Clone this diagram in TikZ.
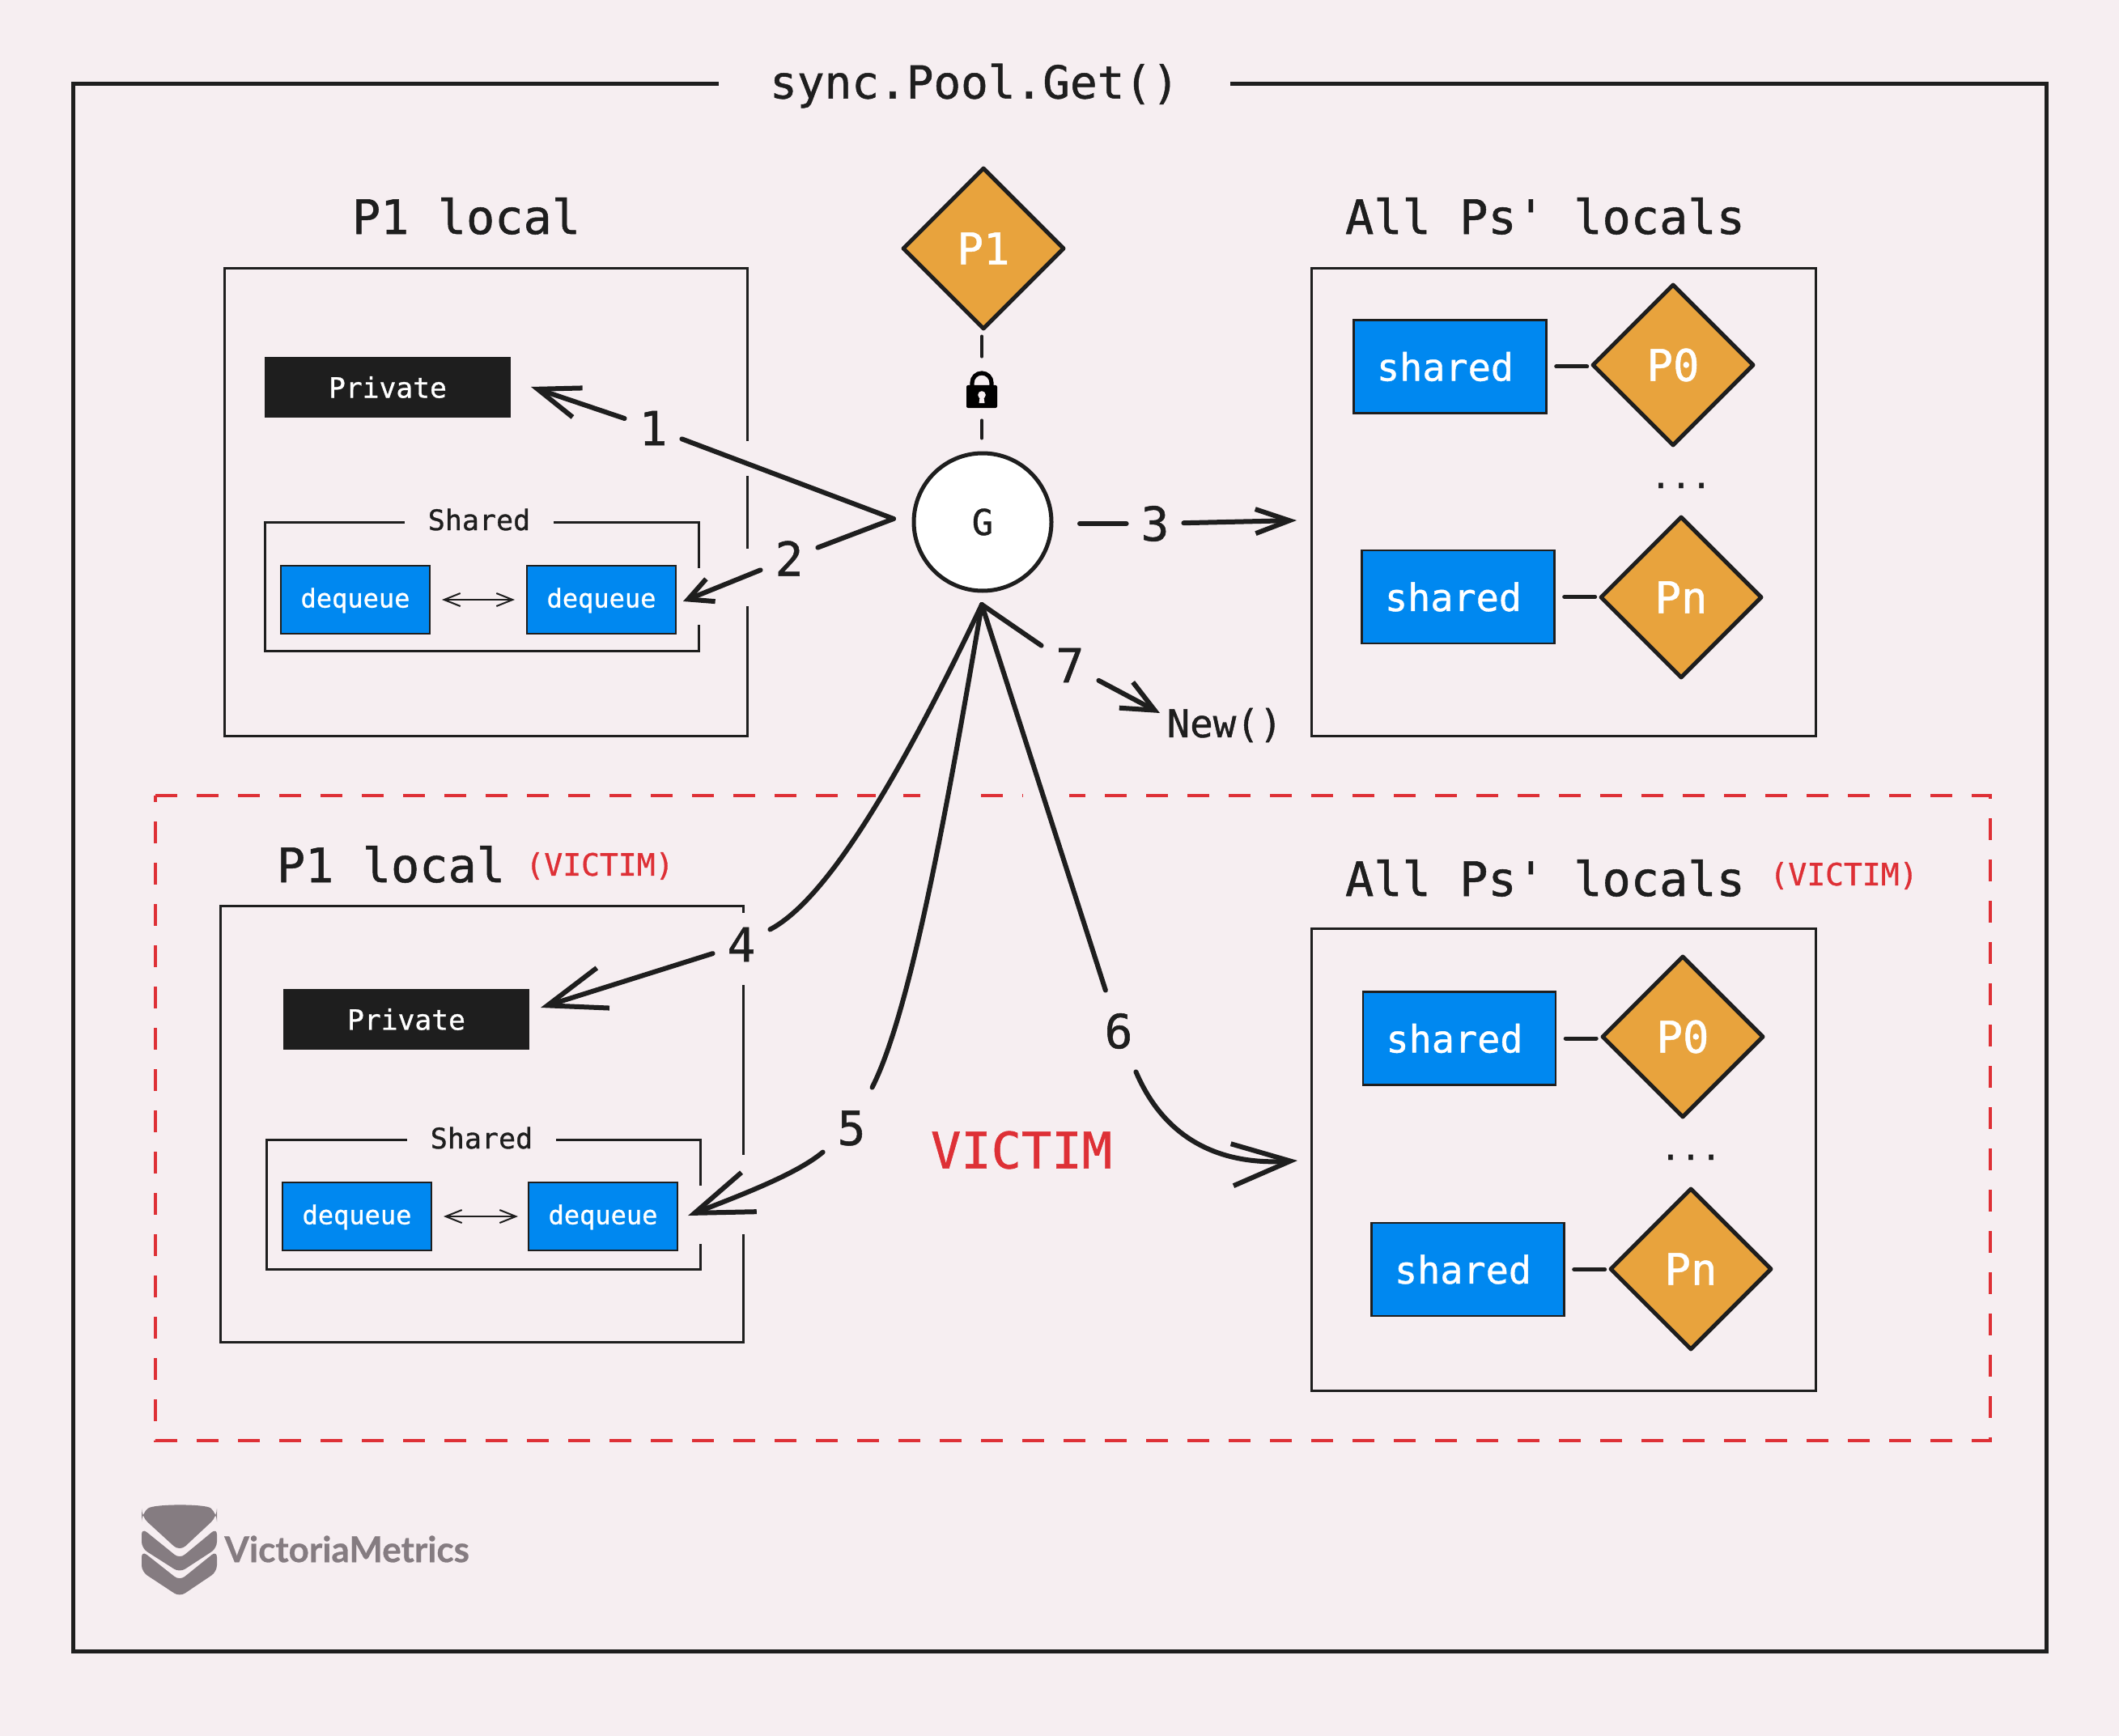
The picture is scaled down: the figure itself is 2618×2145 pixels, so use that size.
\documentclass[tikz,border=0pt]{standalone}
\usepackage{fontspec}
\setmonofont{DejaVu Sans Mono}[FakeBold=0.9]
\renewcommand{\familydefault}{\ttdefault}
\newfontfamily\logofont{Lato}[FakeBold=0.6]
\usetikzlibrary{arrows.meta,shapes.geometric}

\definecolor{pagebg}{HTML}{F6EEF1}
\definecolor{ink}{HTML}{1E1E1E}
\definecolor{qblue}{HTML}{0088F0}
\definecolor{porange}{HTML}{E8A33D}
\definecolor{vred}{HTML}{DE3036}
\definecolor{logogray}{HTML}{857C81}

\tikzset{
  txt/.style={font=\normalfont\fontsize{#1}{#1}\selectfont, text=ink, inner sep=0pt},
  size/.style args={#1x#2}{minimum width=#1*0.5pt, minimum height=#2*0.5pt},
  frame/.style={draw=ink, line width=1.5pt, inner sep=0pt},
  private/.style={fill=ink, inner sep=0pt, size=304x75, text=white, font=\normalfont\fontsize{17.3}{17.3}\selectfont},
  dequeue/.style={draw=ink, line width=1pt, fill=qblue, inner sep=0pt, size=184x84, text=white, text height=0.96em, text depth=0pt, font=\normalfont\fontsize{16}{16}\selectfont},
  sharedq/.style={draw=ink, line width=1.2pt, fill=qblue, inner sep=0pt, size=238x115, text=white, font=\normalfont\fontsize{23.4}{23.4}\selectfont, execute at end node=\hspace{6pt}},
  proc/.style={diamond, aspect=1, draw=ink, line width=2.5pt, line join=round, fill=porange, inner sep=0pt, minimum size=100pt, text=white, font=\normalfont\fontsize{27}{27}\selectfont},
  stepnum/.style={txt=29, size=70x100},
  link/.style={draw=ink, line width=3pt, line cap=round},
  tether/.style={draw=ink, line width=2pt, line cap=round},
  swap/.style={draw=ink, line width=1pt, {Straight Barb[length=10pt,width=8pt]}-{Straight Barb[length=10pt,width=8pt]}},
  cleared/.style={fill=pagebg},
}

\begin{document}
\begin{tikzpicture}[x=0.5pt,y=-0.5pt]
  \useasboundingbox (0,0) rectangle (2618,2145);
  \fill[pagebg] (0,0) rectangle (2618,2145);

  %outer frame with its title
  \node[draw=ink, line width=2.5pt, size=2438x1936] (outer) at (1309,1072) {};
  \node[txt=28, fill=pagebg, size=632x60] (title) at (1204,106) {sync.Pool.Get()};

  %victim region
  \draw[vred, line width=1.8pt, dash pattern=on 13.5pt off 12pt] (192,983) -- (2459,983) -- (2459,1780) -- (192,1780) -- cycle;

  %local boxes
  \node[frame, size=646x577] (localA) at (600,620.5) {};
  \node[frame, size=623x577] (allA) at (1931.5,620.5) {};
  \node[frame, size=646x539] (localB) at (595,1388.5) {};
  \node[frame, size=623x571] (allB) at (1931.5,1432.5) {};
  \node[frame, size=536x159] (boxA) at (595,724.5) {};
  \node[frame, size=536x160] (boxB) at (597,1488) {};

  %openings where the arrows pass
  \foreach \x/\a/\b in {923/545/588, 923/678/749, 863/702/772, 918/1128/1217, 918/1427/1525, 866/1465/1537}
    \fill[cleared] (\x-5,\a) rectangle (\x+5,\b);
  \foreach \a/\b in {1082/1116, 1137/1211, 1264/1321}
    \fill[cleared] (\a,975) rectangle (\b,991);

  \node[txt=29.3] (headA) at (576,267) {P1 local};
  \node[txt=29.3] (headB) at (1909,267) {All Ps' locals};
  \node[txt=29.3] (headC) at (483,1068) {P1 local};
  \node[txt=29.3] (headD) at (1909,1085) {All Ps' locals};
  \node[txt=19, text=vred] (tagC) at (741,1070) {(VICTIM)};
  \node[txt=19, text=vred] (tagD) at (2278,1082) {(VICTIM)};
  \node[txt=31, text=vred] (victim) at (1262,1421) {VICTIM};

  %P1 local contents
  \node[private] (privA) at (479,478.5) {Private};
  \node[txt=17.5, fill=pagebg, size=184x40] (sharedA) at (592,642) {Shared};
  \node[dequeue] (deqA) at (439,741) {dequeue};
  \node[dequeue] (deqB) at (743,741) {dequeue};
  \draw[swap] (deqA) ++(107,0) -- ++(90,0);

  \node[private] (privB) at (502,1259.5) {Private};
  \node[txt=17.5, fill=pagebg, size=184x40] (sharedB) at (595,1406) {Shared};
  \node[dequeue] (deqC) at (441,1503) {dequeue};
  \node[dequeue] (deqD) at (745,1503) {dequeue};
  \draw[swap] (deqC) ++(107,0) -- ++(92,0);

  %all Ps, top
  \node[sharedq] (qA) at (1791.5,453) {shared};
  \node[proc] (pA) at (2067,451) {P0};
  \node[sharedq] (qB) at (1801.5,737.5) {shared};
  \node[proc] (pB) at (2077,738) {Pn};
  \node[txt=20.8, anchor=base] (dotsA) at (2077,603) {...};
  \draw[link, line width=2.5pt] (qA.east) ++(11,0) -- ++(38,0);
  \draw[link, line width=2.5pt] (qB.east) ++(11,0) -- ++(38,0);

  %all Ps, bottom
  \node[sharedq] (qC) at (1803,1283) {shared};
  \node[proc] (pC) at (2079,1281) {P0};
  \node[sharedq] (qD) at (1813.5,1568.5) {shared};
  \node[proc] (pD) at (2089,1568) {Pn};
  \node[txt=20.8, anchor=base] (dotsB) at (2089,1433) {...};
  \draw[link, line width=2.5pt] (qC.east) ++(11,0) -- ++(38,0);
  \draw[link, line width=2.5pt] (qD.east) ++(11,0) -- ++(38,0);

  %goroutine, its P and the lock
  \node[proc] (pMain) at (1215,307) {P1};
  \node[circle, draw=ink, line width=2.5pt, fill=white, minimum size=85pt, inner sep=0pt, font=\normalfont\fontsize{22}{22}\selectfont, text=ink] (g) at (1214,645) {G};
  \node[minimum width=19pt, minimum height=39pt, inner sep=0pt] (lock) at (1213,480) {};
  \fill[black, rounded corners=1pt] (1194,476) rectangle (1232,504);
  \draw[black, line width=2.6pt] (1201,478) -- (1201,473) arc[start angle=180, end angle=0, radius=6pt] -- (1225,478);
  \fill[pagebg] (1213,488) circle (2.4pt);
  \fill[pagebg] (1211,488) -- (1215,488) -- (1216.5,498) -- (1209.5,498) -- cycle;
  \draw[tether, shorten <=3pt] (lock.north |- pMain.south) -- (lock.north);
  \draw[tether, shorten >=8pt] (lock.south) -- (g.north -| lock.south);

  %arrows out of G
  \coordinate (fork) at (1104,641);
  \coordinate (apex) at (1213,747);
  \coordinate (startThree) at (1334,647);
  \coordinate (tipOne) at (656,478);
  \coordinate (tipTwo) at (844,743);
  \coordinate (tipThree) at (1602,643);
  \coordinate (tipFour) at (668,1245);
  \coordinate (tipFive) at (850,1502);
  \coordinate (tipSix) at (1603,1434);
  \coordinate (tipSeven) at (1433,881);
  \node[txt=23.7] (newCall) at (1513,896) {New()};

  \node[stepnum] (one) at (807,529) {1};
  \node[stepnum] (two) at (975,690) {2};
  \node[stepnum] (three) at (1427,647) {3};
  \node[stepnum] (four) at (916,1167) {4};
  \node[stepnum] (five) at (1052,1394) {5};
  \node[stepnum] (six) at (1382,1274) {6};
  \node[stepnum] (seven) at (1322,822) {7};

  %step 1
  \draw[link] (fork) -- (one);
  \draw[link, -{Straight Barb[length=26pt,width=19pt]}] (one) -- (tipOne);
  %step 2
  \draw[link] (fork) -- (two);
  \draw[link, -{Straight Barb[length=15pt,width=15pt]}] (two) -- (tipTwo);
  %step 3
  \draw[link] (startThree) -- (three);
  \draw[link, -{Straight Barb[length=21pt,width=15pt]}] (three) -- (tipThree);
  %step 4
  \draw[link] (apex) .. controls (1100,985) and (1015,1115) .. (four);
  \draw[link, -{Straight Barb[length=36pt,width=26pt]}] (four) -- (tipFour);
  %step 5
  \draw[link] (apex) .. controls (1170,1000) and (1125,1250) .. (five);
  \draw[link, -{Straight Barb[length=36pt,width=26pt]}] (five) .. controls (985,1450) and (920,1475) .. (tipFive);
  %step 6
  \draw[link] (apex) -- (six);
  \draw[link, -{Straight Barb[length=36pt,width=26pt]}] (six) .. controls (1440,1410) and (1510,1440) .. (tipSix);
  %step 7
  \draw[link] (apex) -- (seven);
  \draw[link, -{Straight Barb[length=20pt,width=18pt]}] (seven) -- (tipSeven);

  %logo
  \fill[logogray, rounded corners=5pt] (175,1870) .. controls (190,1858) and (254,1858) .. (268,1870) -- (268,1874) -- (222,1917) -- (175,1874) -- cycle;
  \fill[logogray, rounded corners=4pt] (175,1888) -- (222,1926) -- (268,1888) -- (268,1913) -- (222,1943) -- (175,1913) -- cycle;
  \fill[logogray, rounded corners=4pt] (175,1916) -- (222,1953) -- (268,1916) -- (268,1942) -- (222,1973) -- (175,1942) -- cycle;
  \node[font=\logofont\bfseries\fontsize{22}{22}\selectfont, text=logogray, inner sep=0pt, anchor=west] (brand) at (277,1914) {VictoriaMetrics};
\end{tikzpicture}
\end{document}
